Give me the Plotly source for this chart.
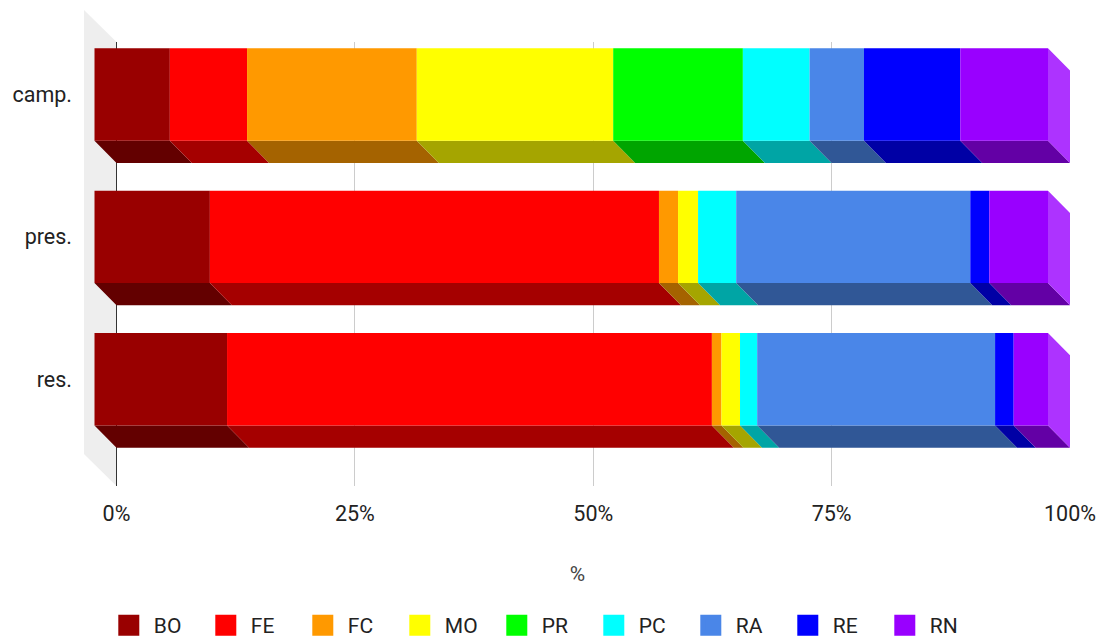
import plotly.graph_objects as go

# ---------------- data ----------------
categories = ["camp.", "pres.", "res."]
series_names = ["BO", "FE", "FC", "MO", "PR", "PC", "RA", "RE", "RN"]
BO = [7.9, 12.1, 13.9]
FE = [8.1, 47.1, 50.85]
FC = [17.8, 2.0, 1.0]
MO = [20.6, 2.1, 1.95]
PR = [13.6, 0.0, 0.0]
PC = [7.0, 4.0, 1.8]
RA = [5.7, 24.55, 24.95]
RE = [10.1, 2.0, 1.95]
RN = [9.2, 6.15, 3.6]
x_tick_values = [0, 25, 50, 75, 100]
x_tick_labels = ["0%", "25%", "50%", "75%", "100%"]
x_axis_title = "%"

series_values = [BO, FE, FC, MO, PR, PC, RA, RE, RN]
series_colors = ["#990000", "#ff0000", "#ff9900", "#ffff00", "#00ff00",
                 "#00ffff", "#4a86e8", "#0000ff", "#9900ff"]

# ---------------- geometry ----------------
FIG_W, FIG_H = 1102, 637
L, R, T, B = 84, 31, 42, 151
PW, PH = FIG_W - L - R, FIG_H - T - B
X0_PX = 116.5          # pixel of 0 %
X_PER = 9.535          # px per %
Y0_PX = 94.5           # pixel of first category centre (front face)
Y_PER = 142.35         # px per category step
xmin = -(X0_PX - L) / X_PER
xmax = xmin + PW / X_PER
ytop = -(Y0_PX - T) / Y_PER
ybot = ytop + PH / Y_PER

DX = 22 / X_PER        # depth, in % units
DY = 22.3 / Y_PER      # depth, in category units
HALF = 46.2 / Y_PER    # half height of front face


def shade(hex_color, f):
    r, g, b = int(hex_color[1:3], 16), int(hex_color[3:5], 16), int(hex_color[5:7], 16)
    return "#%02x%02x%02x" % (int(r * f), int(g * f), int(b * f))


def tint(hex_color, f):
    r, g, b = int(hex_color[1:3], 16), int(hex_color[3:5], 16), int(hex_color[5:7], 16)
    return "#%02x%02x%02x" % (int(r + (255 - r) * f), int(g + (255 - g) * f), int(b + (255 - b) * f))


fronts = {n: ([], []) for n in series_names}
bottoms = {n: ([], []) for n in series_names}
rights = {n: ([], []) for n in series_names}

for ci, cat in enumerate(categories):
    cum = 0.0
    last = None
    for name, vals in zip(series_names, series_values):
        v = vals[ci]
        if v <= 0:
            continue
        a, b = cum, cum + v
        c = ci
        fx, fy = fronts[name]
        fx += [a - DX, b - DX, b - DX, a - DX, a - DX, None]
        fy += [c - HALF, c - HALF, c + HALF, c + HALF, c - HALF, None]
        bx, by = bottoms[name]
        bx += [a - DX, b - DX, b, a, a - DX, None]
        by += [c + HALF, c + HALF, c + HALF + DY, c + HALF + DY, c + HALF, None]
        cum = b
        last = (name, b, c)
    if last:
        name, b, c = last
        rx, ry = rights[name]
        rx += [b - DX, b, b, b - DX, b - DX, None]
        ry += [c - HALF, c - HALF + DY, c + HALF + DY, c + HALF, c - HALF, None]

fig = go.Figure()

for name, col in zip(series_names, series_colors):
    bx, by = bottoms[name]
    if bx:
        fig.add_trace(go.Scatter(x=bx, y=by, mode="lines", fill="toself",
                                 fillcolor=shade(col, 0.65), line=dict(width=0),
                                 hoverinfo="skip", showlegend=False))
for name, col in zip(series_names, series_colors):
    rx, ry = rights[name]
    if rx:
        fig.add_trace(go.Scatter(x=rx, y=ry, mode="lines", fill="toself",
                                 fillcolor=tint(col, 0.2), line=dict(width=0),
                                 hoverinfo="skip", showlegend=False))
for name, col in zip(series_names, series_colors):
    fx, fy = fronts[name]
    if fx:
        fig.add_trace(go.Scatter(x=fx, y=fy, mode="lines", fill="toself",
                                 fillcolor=col, line=dict(width=0),
                                 name=name, hoverinfo="name", showlegend=False))

# legend entries
for name, col in zip(series_names, series_colors):
    fig.add_trace(go.Scatter(x=[None], y=[None], mode="markers", name=name,
                             marker=dict(symbol="square", size=16, color=col,
                                         line=dict(width=5, color=col))))

# gray back wall (axis decoration)
def px_x(p):
    return (p - L) / PW


def px_y(p):
    return (FIG_H - B - p) / PH


wall = [(84, 10), (116.5, 42), (116.5, 486), (84, 454)]
path = "M " + " L ".join("%f,%f" % (px_x(x), px_y(y)) for x, y in wall) + " Z"
fig.add_shape(type="path", path=path, xref="paper", yref="paper",
              fillcolor="#eeeeee", line=dict(width=0), layer="below")

legend_left_px = 103.8

font_family = "Roboto"
fig.update_layout(
    width=FIG_W, height=FIG_H,
    margin=dict(l=L, r=R, t=T, b=B, autoexpand=False),
    paper_bgcolor="white", plot_bgcolor="rgba(0,0,0,0)",
    font=dict(family=font_family, color="#222222", size=21),
    legend=dict(orientation="h", x=px_x(legend_left_px), xanchor="left",
                y=-0.268, yanchor="top",
                font=dict(size=21, color="#222222"), itemwidth=40,
                entrywidth=42, bgcolor="rgba(0,0,0,0)"),
    xaxis=dict(range=[xmin, xmax], tickvals=x_tick_values, ticktext=x_tick_labels,
               showgrid=True, gridcolor="#cccccc", gridwidth=1,
               zeroline=True, zerolinecolor="#333333", zerolinewidth=1,
               showline=False, ticks="", ticklabelstandoff=12,
               tickfont=dict(size=21.5, color="#222222"),
               title=dict(text=x_axis_title, standoff=41,
                          font=dict(size=21, color="#444444"))),
    yaxis=dict(range=[ybot, ytop], tickvals=list(range(len(categories))),
               ticktext=categories, showgrid=False, zeroline=False, showline=False,
               ticks="", ticklabelstandoff=11,
               tickfont=dict(size=21.5, color="#222222")),
)

fig.write_html("out.html")
